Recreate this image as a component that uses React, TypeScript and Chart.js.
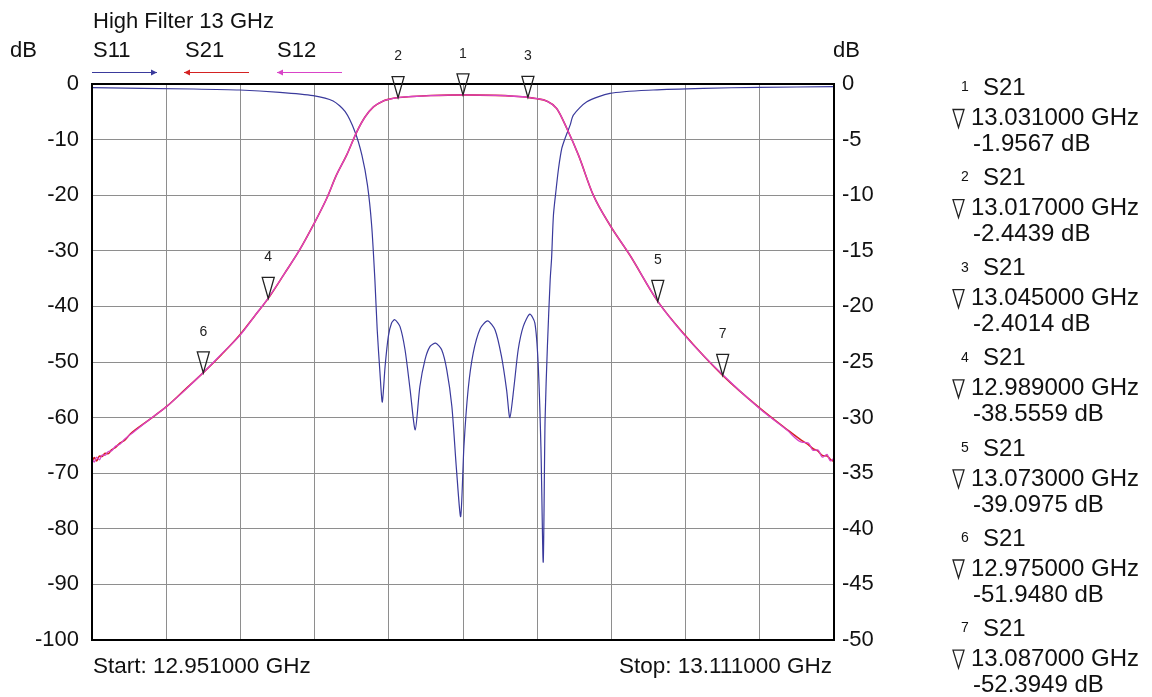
import React, { useEffect, useRef } from "react";
import { Chart, registerables } from "chart.js";

Chart.register(...registerables);

// ---------- data ----------
const freqStart = 12.951;
const freqStop = 13.111;
const freqStep = 0.016;

const s21Freq = [
  12.951, 12.9515, 12.952, 12.9526, 12.9532, 12.9538, 12.9545, 12.9552, 12.956, 12.957, 12.958,
  12.9592, 12.963, 12.9671, 12.971, 12.975, 12.979, 12.9829, 12.986, 12.989,
  12.9925, 12.9958, 12.9987, 13.0016, 13.0037, 13.0059, 13.0081, 13.0099, 13.0117, 13.0138,
  13.015, 13.017, 13.02, 13.024, 13.031, 13.038, 13.042, 13.045, 13.047, 13.049, 13.0512,
  13.0534, 13.0559, 13.0591, 13.0627, 13.067, 13.073, 13.0788, 13.087, 13.095, 13.1008,
  13.104, 13.1055, 13.1065, 13.1075, 13.1085, 13.1095, 13.1102, 13.111,
];
const s21Values = [
  -67.9, -67.2, -67.8, -66.9, -67.0, -66.4, -66.5, -65.8, -65.4, -64.6, -64.1,
  -63.0, -60.6, -58.0, -55.0, -51.9, -48.6, -45.1, -41.8, -38.56,
  -34.1, -29.8, -25.4, -20.6, -16.4, -12.8, -8.6, -5.9, -4.1, -3.06,
  -2.75, -2.44, -2.25, -2.08, -1.96, -2.05, -2.2, -2.4, -2.65, -3.06, -4.4,
  -8.0, -12.8, -20.0, -25.4, -30.8, -39.1, -45.1, -52.4, -58.3, -62.1,
  -64.1, -64.9, -65.6, -66.0, -66.8, -66.9, -67.5, -67.9,
];
const s12Values = [
  -67.5, -68.0, -67.1, -67.6, -66.7, -66.8, -66.1, -66.0, -65.2, -64.8, -63.9,
  -63.1, -60.6, -58.0, -55.1, -51.9, -48.5, -45.2, -41.8, -38.5,
  -34.1, -29.8, -25.4, -20.6, -16.4, -12.8, -8.6, -5.9, -4.1, -3.06,
  -2.75, -2.44, -2.25, -2.08, -1.96, -2.05, -2.2, -2.4, -2.65, -3.06, -4.4,
  -8.0, -12.8, -20.0, -25.4, -30.8, -39.1, -45.2, -52.3, -58.4, -62.2,
  -64.4, -64.6, -65.9, -65.8, -67.1, -66.6, -67.8, -67.3,
];

const s11Freq = [
  12.951, 12.9728, 12.9829, 12.9915, 12.9987, 13.003, 13.0056, 13.0077, 13.0092, 13.0104,
  13.0113, 13.012, 13.0125, 13.0131, 13.0136, 13.0142, 13.0149, 13.0156, 13.0163, 13.0174,
  13.0185, 13.0196, 13.0207, 13.0217, 13.0228, 13.0239, 13.0251, 13.0264, 13.0275, 13.0286,
  13.0296, 13.0305, 13.0312, 13.0321, 13.0332, 13.0347, 13.0363, 13.0379, 13.0393, 13.0404,
  13.0411, 13.042, 13.0429, 13.044, 13.0454, 13.0465, 13.0472, 13.0478, 13.0483, 13.0487,
  13.0492, 13.0498, 13.0501, 13.0505, 13.0511, 13.0516, 13.0523, 13.053, 13.0541, 13.0548,
  13.0577, 13.0627, 13.072, 13.0828, 13.095, 13.111,
];
const s11Values = [
  -0.33, -0.45, -0.54, -0.75, -1.05, -1.53, -2.49, -4.29, -6.4, -9.1,
  -12.7, -17.6, -22.1, -26.0, -28.6, -25.4, -22.7, -21.5, -21.2, -21.8,
  -23.9, -27.5, -31.1, -27.2, -24.8, -23.6, -23.3, -23.9, -25.7, -29.0,
  -34.7, -38.9, -32.6, -27.5, -24.2, -22.0, -21.3, -22.1, -24.5, -27.5,
  -30.0, -27.2, -23.9, -21.8, -20.7, -21.5, -25.1, -32.6, -43.0, -30.2,
  -23.6, -17.6, -15.7, -11.8, -9.4, -7.6, -5.8, -4.9, -3.7, -2.8,
  -1.6, -0.84, -0.54, -0.39, -0.3, -0.24,
];

const markerNums = ["1", "2", "3", "4", "5", "6", "7"];
const markerTrace = ["S21", "S21", "S21", "S21", "S21", "S21", "S21"];
const markerFreqs = [13.031, 13.017, 13.045, 12.989, 13.073, 12.975, 13.087];
const markerValues = [-1.9567, -2.4439, -2.4014, -38.5559, -39.0975, -51.948, -52.3949];

const titleText = "High Filter 13 GHz";
const legendNames = ["S11", "S21", "S12"];
const startLabel = "Start: 12.951000 GHz";
const stopLabel = "Stop: 13.111000 GHz";

// ---------- styles ----------
const BLUE = "#3a3a9c";
const RED = "#d42222";
const MAG = "#d944c8";
const GRID = "#8e8e8e";
const FONT = "'Liberation Sans', Arial, sans-serif";

function drawArrow(ctx: CanvasRenderingContext2D, x1: number, x2: number, y: number, color: string, headAtRight: boolean) {
  ctx.save();
  ctx.strokeStyle = color;
  ctx.fillStyle = color;
  ctx.lineWidth = 1;
  ctx.beginPath();
  ctx.moveTo(x1, y + 0.5);
  ctx.lineTo(x2, y + 0.5);
  ctx.stroke();
  const hx = headAtRight ? x2 : x1;
  const d = headAtRight ? -6 : 6;
  ctx.beginPath();
  ctx.moveTo(hx, y + 0.5);
  ctx.lineTo(hx + d, y - 2.5);
  ctx.lineTo(hx + d, y + 3.5);
  ctx.closePath();
  ctx.fill();
  ctx.restore();
}

function drawTriangle(ctx: CanvasRenderingContext2D, cx: number, tipY: number, h: number, w: number) {
  ctx.save();
  ctx.strokeStyle = "#222";
  ctx.lineWidth = 1.3;
  ctx.beginPath();
  ctx.moveTo(cx - w / 2, tipY - h);
  ctx.lineTo(cx + w / 2, tipY - h);
  ctx.lineTo(cx, tipY);
  ctx.closePath();
  ctx.stroke();
  ctx.restore();
}

const overlayPlugin = {
  id: "overlay",
  afterDatasetsDraw(chart: any) {
    const ctx: CanvasRenderingContext2D = chart.ctx;
    const a = chart.chartArea;
    ctx.save();
    ctx.strokeStyle = "#000";
    ctx.lineWidth = 2;
    ctx.strokeRect(a.left, a.top, a.right - a.left, a.bottom - a.top);
    ctx.restore();

    const xs = chart.scales.x;
    const ys = chart.scales.y;
    ctx.save();
    ctx.fillStyle = "#222";
    ctx.font = `14px ${FONT}`;
    ctx.textAlign = "center";
    ctx.textBaseline = "middle";
    markerFreqs.forEach((f, i) => {
      const px = xs.getPixelForValue(f);
      const py = ys.getPixelForValue(markerValues[i]);
      drawTriangle(ctx, px, py, 21, 12);
      ctx.fillText(markerNums[i], px, py - 41);
    });
    ctx.restore();
  },
  afterDraw(chart: any) {
    const ctx: CanvasRenderingContext2D = chart.ctx;
    const a = chart.chartArea;
    ctx.save();
    ctx.fillStyle = "#111";
    ctx.textBaseline = "middle";
    ctx.textAlign = "left";
    ctx.font = `22px ${FONT}`;
    ctx.fillText(titleText, a.left + 1, 22);
    ctx.fillText("dB", 10, 51);
    ctx.fillText("dB", a.right - 1, 51);
    const lx = [a.left + 1, 185, 277];
    legendNames.forEach((n, i) => ctx.fillText(n, lx[i], 51));
    drawArrow(ctx, 92, 157, 72, BLUE, true);
    drawArrow(ctx, 184, 249, 72, RED, false);
    drawArrow(ctx, 277, 342, 72, MAG, false);
    ctx.font = `22.5px ${FONT}`;
    ctx.fillText(startLabel, a.left + 1, 667);
    ctx.textAlign = "right";
    ctx.fillText(stopLabel, a.right - 2, 667);

    // marker table
    const top = 88.5;
    const gap = 90.1;
    markerNums.forEach((n, i) => {
      const y0 = top + i * gap;
      ctx.textAlign = "left";
      ctx.font = `14px ${FONT}`;
      ctx.fillText(n, 961, y0 - 1);
      ctx.font = `24px ${FONT}`;
      ctx.fillText(markerTrace[i], 983, y0);
      drawTriangle(ctx, 958.5, y0 + 39, 18, 11);
      const fTxt = markerFreqs[i].toFixed(6) + " GHz";
      ctx.fillText(fTxt, 971, y0 + 30);
      ctx.fillText(markerValues[i].toFixed(4) + " dB", 973, y0 + 56);
    });
    ctx.restore();
  },
};

export default function App() {
  const ref = useRef<HTMLCanvasElement | null>(null);
  useEffect(() => {
    if (!ref.current) return;
    const tickFont = { family: FONT, size: 22 };
    const chart = new Chart(ref.current, {
      type: "line",
      data: {
        datasets: [
          {
            label: "S12",
            data: s21Freq.map((f, i) => ({ x: f, y: s12Values[i] })),
            yAxisID: "y",
            borderColor: MAG,
            borderWidth: 1.3,
            pointRadius: 0,
            cubicInterpolationMode: "monotone",
            order: 0,
          },
          {
            label: "S21",
            data: s21Freq.map((f, i) => ({ x: f, y: s21Values[i] })),
            yAxisID: "y",
            borderColor: RED,
            borderWidth: 1.6,
            pointRadius: 0,
            cubicInterpolationMode: "monotone",
            order: 1,
          },
          {
            label: "S11",
            data: s11Freq.map((f, i) => ({ x: f, y: s11Values[i] })),
            yAxisID: "y2",
            borderColor: BLUE,
            borderWidth: 1.2,
            pointRadius: 0,
            tension: 0.25,
            order: 2,
          },
        ],
      } as any,
      options: {
        animation: false,
        responsive: false,
        devicePixelRatio: 1,
        layout: { padding: { top: 84, left: 0, right: 0, bottom: 0 } },
        plugins: { legend: { display: false }, tooltip: { enabled: false }, title: { display: false } },
        scales: {
          x: {
            type: "linear",
            min: freqStart,
            max: freqStop,
            ticks: { display: false, stepSize: freqStep },
            grid: { color: GRID, lineWidth: 1, drawTicks: false },
            border: { display: false },
            afterFit: (s: any) => {
              s.height = 57;
            },
          },
          y: {
            position: "left",
            min: -100,
            max: 0,
            ticks: { stepSize: 10, padding: 13, font: tickFont, color: "#111" },
            grid: { color: GRID, lineWidth: 1, drawTicks: false },
            border: { display: false },
            afterFit: (s: any) => {
              s.width = 92;
            },
          },
          y2: {
            position: "right",
            min: -50,
            max: 0,
            ticks: { stepSize: 5, padding: 8, font: tickFont, color: "#111" },
            grid: { display: false, drawTicks: false },
            border: { display: false },
            afterFit: (s: any) => {
              s.width = 318;
            },
          },
        },
      } as any,
      plugins: [overlayPlugin],
    });
    return () => chart.destroy();
  }, []);
  return (
    <div style={{ position: "absolute", left: 0, top: 0, width: 1152, height: 697, background: "#fff" }}>
      <canvas ref={ref} width={1152} height={697} style={{ display: "block" }} />
    </div>
  );
}
